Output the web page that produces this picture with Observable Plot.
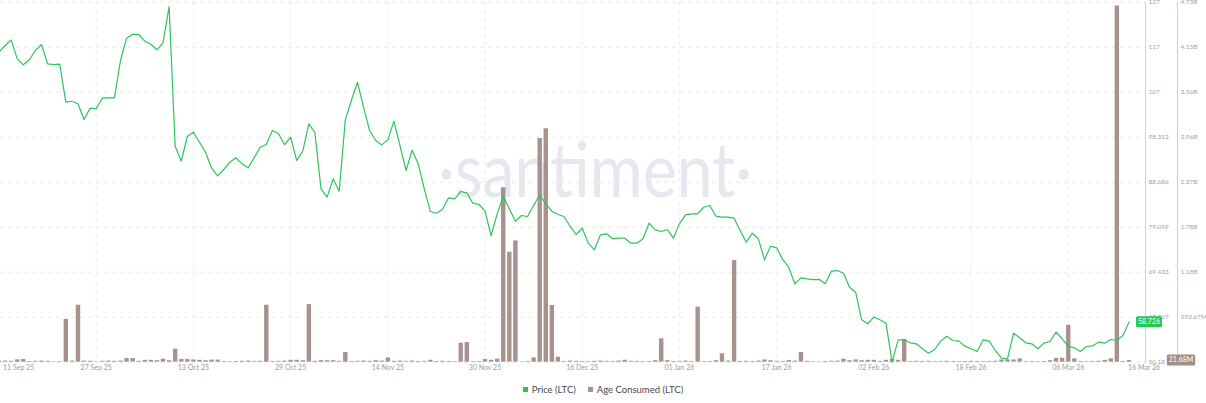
<!DOCTYPE html>
<html>
<head>
<meta charset="utf-8">
<script src="https://cdn.jsdelivr.net/npm/d3@7"></script>
<script src="https://cdn.jsdelivr.net/npm/@observablehq/plot@0.6"></script>
<style>
  body { margin: 0; background: #fff; }
  #wrap { position: relative; width: 1206px; height: 403px; font-family: Lato, "Open Sans", sans-serif; overflow: hidden; }
  .layer { position: absolute; left: 0; top: 0; }
  #legend { position: absolute; left: 0; top: 384px; width: 1206px; display: flex; justify-content: center; align-items: center; gap: 12px; font-size: 9.5px; color: #4a4a4a; }
  #legend .item { display: flex; align-items: center; gap: 4px; }
  #legend .sw { width: 5px; height: 5px; display: inline-block; }
</style>
</head>
<body>
<div id="wrap">
  <svg class="layer" width="1206" height="375">
    <text x="595" y="197" text-anchor="middle" font-family="Lato, 'Open Sans', sans-serif" font-size="76" fill="#e5e8ee" textLength="314" lengthAdjust="spacingAndGlyphs">·santiment·</text>
  </svg>
  <div id="grid" class="layer"></div>
  <div id="bars" class="layer"></div>
  <div id="line" class="layer"></div>
  <div id="legend"></div>
</div>
<script>
// ---------- data ----------
const startDate = "2025-09-11";
const endDate = "2026-03-16";

const priceLTC = [
  116.33,117.76,118.97,114.92,113.64,114.71,116.69,117.97,113.85,113.70,
  113.77,105.66,105.87,105.32,101.97,104.38,104.25,106.51,106.60,106.60,
  114.56,119.32,120.17,120.11,118.68,118.04,116.84,118.34,126.08,96.27,
  93.07,98.34,99.26,97.12,94.99,91.58,89.95,91.30,92.86,93.79,
  92.51,91.66,93.79,96.06,96.63,99.62,98.98,96.57,98.19,93.22,
  95.22,101.05,99.19,87.18,85.39,89.31,86.67,101.90,106.02,109.93,
  104.59,99.62,97.49,96.55,97.63,101.61,96.42,91.08,95.41,92.51,
  87.18,82.33,81.97,82.76,85.26,85.04,86.60,86.33,84.11,83.83,
  82.40,77.21,81.83,85.54,82.91,80.27,81.48,81.27,83.62,85.90,
  83.98,82.40,81.70,81.27,79.20,77.43,78.77,75.57,74.16,77.36,
  77.58,76.51,76.64,76.64,75.57,75.57,76.51,79.84,78.43,78.07,
  78.50,76.64,79.70,81.63,81.84,81.84,83.25,83.62,81.34,81.12,
  81.12,80.91,78.28,75.78,77.71,76.51,72.03,74.95,74.59,72.10,
  70.45,66.90,68.18,67.97,67.82,67.87,66.90,69.60,69.74,69.17,
  66.19,65.12,59.23,58.38,59.80,59.23,58.50,50.18,54.96,54.96,
  54.32,54.10,53.04,52.10,52.89,54.67,55.73,54.81,54.67,53.60,
  53.04,52.46,54.96,54.67,52.68,51.03,50.90,56.37,55.39,54.32,
  54.10,53.04,54.24,54.60,56.60,55.18,53.60,53.25,52.46,53.53,
  53.67,54.46,54.24,55.02,54.81,55.88,58.726
];

// Age Consumed, millions of LTC
const ageConsumedM = [
  12,15,12,30,35,10,12,15,12,5,
  8,564,15,752,15,12,5,12,15,12,
  15,48,48,12,25,25,20,40,20,171,
  35,35,30,25,20,28,28,10,8,10,
  12,15,10,12,752,10,12,15,25,25,
  20,760,12,22,20,20,12,128,10,12,
  15,12,20,15,57,12,15,12,15,10,
  12,25,10,12,10,8,250,260,8,10,
  35,25,40,2300,1450,1600,5,10,57,2950,
  3080,748,66,10,15,12,10,8,12,15,
  12,10,15,26,12,10,8,10,20,309,
  20,10,12,15,10,726,8,10,20,111,
  15,1340,10,12,10,15,30,20,12,10,
  22,15,128,12,8,5,10,12,15,40,
  20,30,20,25,25,12,25,35,25,300,
  10,12,10,12,8,10,12,10,8,10,
  12,10,8,10,12,30,30,30,45,8,
  10,8,10,20,50,53,488,44,10,8,
  10,12,25,44,4700,10,21.68
];

const xTickDates = ["2025-09-11","2025-09-27","2025-10-13","2025-10-29","2025-11-14","2025-11-30",
  "2025-12-16","2026-01-01","2026-01-17","2026-02-02","2026-02-18","2026-03-06","2026-03-16"];

const priceDomain = [50.18, 127];
const priceTickLabels = ["50.18","59.807","69.433","79.059","88.686","98.312","107","117","127"];
const ageStepM = 593.67;
const ageTickLabels = ["593.67M","1.18B","1.78B","2.37B","2.96B","3.56B","4.15B","4.73B"];
const priceBadgeLabel = "58.726";
const ageBadgeLabel = "21.68M";

const seriesNames = ["Price (LTC)", "Age Consumed (LTC)"];
const seriesColors = ["#2ec458", "#a8928e"];
const badgeColors = ["#26c953", "#a38d89"];

// ---------- build ----------
const d0 = new Date(startDate), dN = new Date(endDate);
const rows = priceLTC.map((p, i) => ({date: d3.utcDay.offset(d0, i), price: p, age: ageConsumedM[i]}));
const last = rows[rows.length - 1];
const xTicks = xTickDates.map(s => new Date(s));
const fmt = d3.utcFormat("%d %b %y");

const priceTicks = d3.range(priceTickLabels.length).map(i => priceDomain[0] + i * (priceDomain[1] - priceDomain[0]) / (priceTickLabels.length - 1));
const ageTicks = d3.range(1, ageTickLabels.length + 1).map(i => i * ageStepM);
const ageMax = ageStepM * ageTickLabels.length;

const font = "Lato, 'Open Sans', sans-serif";
const W = 1206;
const common = {
  width: W, height: 375, marginTop: 1.7, marginBottom: 13.3, marginLeft: 0,
  style: {background: "transparent", overflow: "visible", fontFamily: font}
};
const xScale = {type: "utc", domain: [d0, dN], range: [-1.5, 1128.5]};
const priceMR = 61, ageMR = 29;
const axisText = {fontSize: 6.5, fill: "#9ea3a8", label: null};

// grid layer
const gridPlot = Plot.plot({
  ...common, marginRight: priceMR,
  x: {...xScale, axis: null}, y: {domain: priceDomain, axis: null},
  marks: [
    Plot.gridY(priceTicks, {stroke: "#e9e9e9", strokeOpacity: 1, strokeDasharray: "4,4"}),
    Plot.gridX(xTicks.slice(1, -1), {stroke: "#ececec", strokeOpacity: 1, strokeDasharray: "4,4"})
  ]
});
document.getElementById("grid").append(gridPlot);

// bars layer (Age Consumed)
const xLab = {anchor: "bottom", tickSize: 0, tickPadding: 3, fontSize: 7, fill: "#9b9b9b", tickFormat: fmt, label: null};
const barPlot = Plot.plot({
  ...common, marginRight: ageMR,
  x: {...xScale, label: null}, y: {domain: [0, ageMax], label: null},
  marks: [
    Plot.ruleX(rows, {x: "date", y1: 0, y2: "age", stroke: seriesColors[1], strokeWidth: 4.4}),
    Plot.axisY(ageTicks, {anchor: "right", tickSize: 0, tickPadding: 3, ...axisText,
      tickFormat: d => ageTickLabels[ageTicks.indexOf(d)]}),
    Plot.frame({anchor: "right", stroke: "#cdcdcd"}),
    Plot.axisX(xTicks.slice(1, -1), xLab),
    Plot.axisX(xTicks.slice(0, 1), {...xLab, textAnchor: "start", dx: 4}),
    Plot.axisX(xTicks.slice(-1), {...xLab, textAnchor: "start", dx: -1})
  ]
});
document.getElementById("bars").append(barPlot);

// line layer (Price)
const linePlot = Plot.plot({
  ...common, marginRight: priceMR,
  x: {...xScale, axis: null}, y: {domain: priceDomain, label: null},
  marks: [
    Plot.line(rows, {x: "date", y: "price", stroke: seriesColors[0], strokeWidth: 1.2}),
    Plot.axisY(priceTicks, {anchor: "right", tickSize: 0, tickPadding: 3, ...axisText,
      tickFormat: d => priceTickLabels[priceTicks.indexOf(d)]}),
    Plot.frame({anchor: "right", stroke: "#aee9bd"})
  ]
});
document.getElementById("line").append(linePlot);

// value badges on each axis, positioned with each plot's own y scale
function badge(svg, yValue, xEdge, label, color) {
  const ns = "http://www.w3.org/2000/svg";
  const y = svg.scale("y").apply(yValue);
  const g = document.createElementNS(ns, "g");
  const t = document.createElementNS(ns, "text");
  t.setAttribute("x", xEdge + 4); t.setAttribute("y", y);
  t.setAttribute("dy", "0.34em");
  t.setAttribute("font-size", 7); t.setAttribute("fill", "white");
  t.setAttribute("font-family", font);
  t.textContent = label;
  g.append(t); svg.append(g);
  const b = t.getBBox();
  const r = document.createElementNS(ns, "rect");
  r.setAttribute("x", b.x - 2); r.setAttribute("y", y - 5.5);
  r.setAttribute("width", b.width + 4); r.setAttribute("height", 11);
  r.setAttribute("rx", 1.5); r.setAttribute("fill", color);
  g.insertBefore(r, t);
}
badge(linePlot, last.price, W - priceMR, priceBadgeLabel, badgeColors[0]);
badge(barPlot, last.age, W - ageMR, ageBadgeLabel, badgeColors[1]);

// legend
const legend = document.getElementById("legend");
seriesNames.forEach((name, i) => {
  const item = document.createElement("span"); item.className = "item";
  const sw = document.createElement("span"); sw.className = "sw"; sw.style.background = seriesColors[i];
  const tx = document.createElement("span"); tx.textContent = name;
  item.append(sw, tx); legend.append(item);
});
</script>
</body>
</html>
